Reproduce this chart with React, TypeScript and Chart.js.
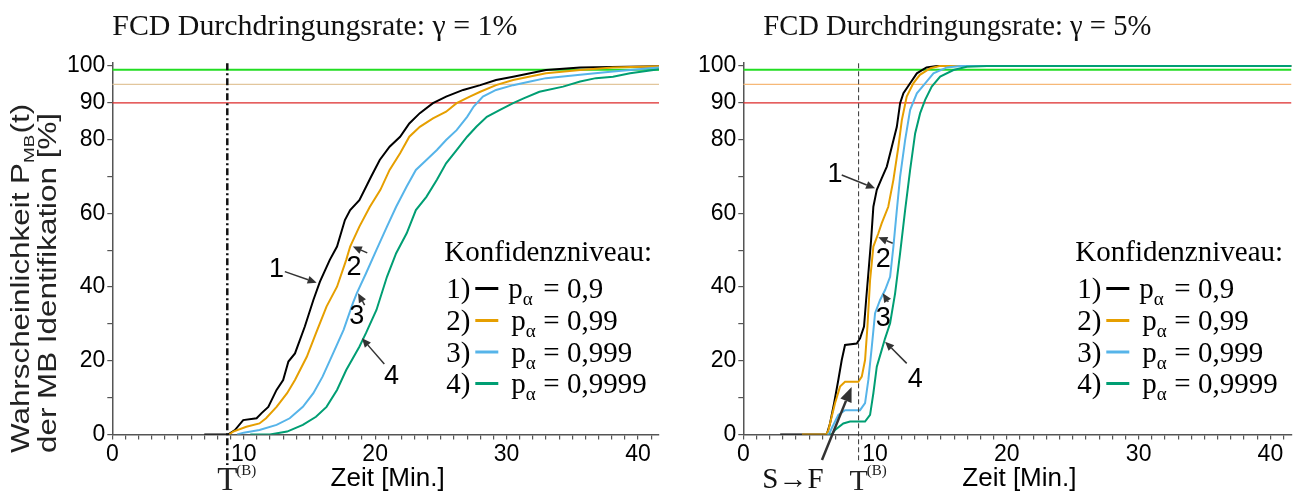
import React, { useEffect, useRef } from 'react';
import { Chart, registerables } from 'chart.js';

Chart.register(...registerables);

type Pt = [number, number];

const SERIF = '"Liberation Serif", "Times New Roman", serif';
const SANS = '"Liberation Sans", Arial, sans-serif';

// ---------- axes ----------
const xMin = 0;
const xMax = 41.6;
const yMin = 0;
const yMax = 101;
const xTickValues = Array.from({ length: 42 }, (_, i) => i);
const xLabelValues = [0, 10, 20, 30, 40];
const yTickValues = [0, 10, 20, 30, 40, 50, 60, 70, 80, 90, 100];
const yLabelValues = [0, 20, 40, 60, 80, 90, 100];

// T^(B) time (min)
const tB = 8.75;
// reference levels (%)
const refLevels = [99, 95, 90];

const seriesColors = ['#000000', '#e69f00', '#56b4e9', '#009e73'];
const legendValues = ['0,9', '0,99', '0,999', '0,9999'];

// ---------- γ = 1 % ----------
const g1_p09: Pt[] = [[7.0, 0], [8.8, 0], [9.33, 1.2], [9.96, 3.9], [10.98, 4.4], [11.36, 5.8], [11.87, 7.5], [12.5, 12.1], [13.0, 14.8], [13.4, 19.8], [13.9, 22.0], [14.65, 29.3], [15.3, 36.5], [15.8, 41.5], [16.55, 47.4], [17.1, 51.0], [17.7, 58.2], [18.1, 60.9], [18.8, 63.6], [19.7, 70.0], [20.35, 74.5], [21.1, 78.1], [21.9, 80.8], [22.6, 84.4], [23.4, 87.2], [24.4, 89.9], [25.4, 91.7], [26.7, 93.5], [28.0, 94.8], [29.2, 96.2], [30.5, 97.1], [33.0, 98.9], [35.6, 99.6], [41.6, 99.9]];
const g1_p099: Pt[] = [[8.9, 0], [9.2, 0.8], [10.2, 2.1], [11.2, 3.0], [11.7, 4.4], [12.5, 7.5], [13.3, 11.2], [13.9, 14.8], [14.8, 21.1], [15.5, 27.5], [16.3, 34.7], [17.1, 40.1], [17.8, 47.4], [18.1, 51.0], [18.8, 56.4], [19.6, 61.8], [20.4, 66.4], [21.1, 71.8], [21.9, 76.3], [22.6, 80.8], [23.4, 83.5], [24.4, 85.8], [25.4, 87.6], [26.2, 89.9], [27.2, 91.7], [28.0, 93.0], [29.2, 94.8], [30.5, 96.2], [33.0, 98.0], [35.6, 98.9], [38.1, 99.6], [41.6, 99.9]];
const g1_p0999: Pt[] = [[9.5, 0], [10.0, 0.5], [11.2, 1.2], [12.5, 2.6], [13.5, 4.4], [14.5, 7.5], [15.3, 11.2], [16.0, 15.7], [16.8, 22.0], [17.6, 28.4], [18.3, 35.6], [18.6, 38.3], [19.3, 43.7], [20.1, 50.1], [20.9, 56.4], [21.6, 61.8], [22.4, 67.3], [23.1, 71.8], [23.9, 74.5], [24.7, 77.2], [25.4, 79.9], [26.2, 82.6], [27.0, 86.2], [27.5, 89.0], [28.2, 91.7], [29.2, 93.5], [30.5, 94.8], [31.8, 95.8], [33.0, 96.7], [35.6, 97.6], [38.1, 98.5], [41.6, 99.6]];
const g1_p09999: Pt[] = [[10.5, 0], [12.0, 0], [13.3, 0.8], [14.5, 2.6], [15.5, 4.8], [16.3, 7.5], [17.1, 12.1], [17.8, 17.5], [18.8, 23.8], [19.3, 27.5], [20.1, 33.8], [20.9, 42.8], [21.6, 49.2], [22.4, 54.6], [23.1, 60.9], [23.9, 64.5], [24.7, 69.1], [25.4, 73.6], [26.2, 77.2], [27.0, 80.8], [27.7, 83.5], [28.5, 86.2], [29.5, 88.1], [30.5, 89.9], [31.3, 91.2], [32.5, 93.0], [34.3, 94.4], [35.6, 95.8], [36.8, 96.7], [38.1, 97.1], [39.4, 98.0], [41.6, 99.1]];

// ---------- γ = 5 % ----------
const g5_p09: Pt[] = [[2.8, 0], [6.33, 0], [6.58, 3.0], [6.89, 8.5], [7.21, 14.8], [7.47, 20.2], [7.72, 24.3], [8.61, 24.7], [8.86, 26.1], [9.16, 29.3], [9.32, 36.5], [9.49, 43.7], [9.7, 52.8], [9.87, 61.8], [10.13, 66.4], [10.5, 69.5], [10.89, 72.7], [11.27, 78.1], [11.65, 83.5], [11.9, 89.9], [12.15, 92.6], [12.66, 95.3], [13.17, 98.0], [13.9, 99.6], [14.7, 100], [41.6, 100]];
const g5_p099: Pt[] = [[4.45, 0], [6.3, 0], [6.46, 1.2], [6.96, 8.5], [7.34, 13.0], [7.72, 14.3], [8.73, 14.3], [8.99, 15.7], [9.24, 20.2], [9.42, 29.3], [9.62, 41.9], [9.87, 51.0], [10.25, 54.6], [10.5, 57.3], [11.0, 61.8], [11.39, 69.1], [11.77, 78.1], [12.03, 85.3], [12.4, 91.7], [12.9, 95.3], [13.4, 97.6], [14.2, 99.4], [14.9, 100], [41.6, 100]];
const g5_p0999: Pt[] = [[6.35, 0], [6.5, 0], [6.71, 1.7], [7.21, 5.3], [7.72, 6.6], [8.86, 6.6], [9.24, 8.5], [9.49, 14.8], [9.75, 23.8], [10.0, 32.9], [10.38, 36.5], [10.76, 39.2], [11.14, 42.8], [11.39, 51.0], [11.65, 60.9], [11.9, 70.0], [12.28, 79.9], [12.66, 88.1], [13.17, 92.6], [13.8, 95.3], [14.43, 98.0], [15.45, 99.6], [16.5, 100], [41.6, 100]];
const g5_p09999: Pt[] = [[6.5, 0], [6.7, 0], [6.96, 1.2], [7.59, 3.0], [8.1, 3.5], [9.24, 3.5], [9.62, 5.3], [9.87, 11.2], [10.13, 18.4], [10.5, 22.9], [10.76, 26.1], [11.14, 30.2], [11.52, 38.3], [11.9, 49.2], [12.28, 60.9], [12.66, 71.8], [13.04, 81.7], [13.42, 87.2], [13.8, 90.8], [14.3, 94.4], [14.94, 97.1], [15.95, 98.9], [16.96, 99.8], [18.5, 100], [41.6, 100]];

// ---------- annotations (data coordinates) ----------
type Ann = { text: string; at: Pt; from: Pt; to: Pt };
const annLeft: Ann[] = [
  { text: '1', at: [12.5, 44.9], from: [13.13, 44.2], to: [15.55, 41.2] },
  { text: '2', at: [18.4, 45.5], from: [19.4, 49.3], to: [18.3, 51.0] },
  { text: '3', at: [18.6, 32.2], from: [19.2, 35.1], to: [18.7, 38.3] },
  { text: '4', at: [21.25, 16.1], from: [20.7, 19.1], to: [19.0, 26.1] },
];
const annRight: Ann[] = [
  { text: '1', at: [6.96, 70.9], from: [7.47, 70.4], to: [10.0, 66.8] },
  { text: '2', at: [10.63, 47.8], from: [11.34, 51.9], to: [10.25, 53.5] },
  { text: '3', at: [10.63, 31.7], from: [11.0, 36.0], to: [10.58, 38.3] },
  { text: '4', at: [13.04, 15.3], from: [12.4, 19.3], to: [10.76, 25.2] },
];
const sfArrow: { from: Pt; to: Pt; labelT: number } = { from: [5.97, -6.9], to: [8.22, 12.9], labelT: 3.77 };

interface PanelSpec {
  left: number;
  width: number;
  axisWidth: number;
  padRight: number;
  title: string;
  titleOffset: number;
  titleWidth: number;
  series: Pt[][];
  refColors: string[];
  anns: Ann[];
  dashDot: boolean;
  yTitle: boolean;
  sf: boolean;
  tSize: number;
}

function arrow(ctx: CanvasRenderingContext2D, x1: number, y1: number, x2: number, y2: number, color: string, lw: number, hl: number, hw: number) {
  const a = Math.atan2(y2 - y1, x2 - x1);
  const bx = x2 - hl * Math.cos(a);
  const by = y2 - hl * Math.sin(a);
  ctx.save();
  ctx.setLineDash([]);
  ctx.strokeStyle = color;
  ctx.fillStyle = color;
  ctx.lineWidth = lw;
  ctx.beginPath();
  ctx.moveTo(x1, y1);
  ctx.lineTo(bx, by);
  ctx.stroke();
  ctx.beginPath();
  ctx.moveTo(x2, y2);
  ctx.lineTo(bx + hw * Math.sin(a), by - hw * Math.cos(a));
  ctx.lineTo(bx - hw * Math.sin(a), by + hw * Math.cos(a));
  ctx.closePath();
  ctx.fill();
  ctx.restore();
}

function makePlugin(spec: PanelSpec) {
  return {
    id: 'decor',
    afterDraw(chart: any) {
      const ctx: CanvasRenderingContext2D = chart.ctx;
      const xs = chart.scales.x;
      const ys = chart.scales.y;
      const X = (v: number) => xs.getPixelForValue(v);
      const Y = (v: number) => ys.getPixelForValue(v);
      const area = chart.chartArea;
      ctx.save();

      // title
      ctx.font = `30px ${SERIF}`;
      ctx.fillStyle = '#111';
      ctx.textAlign = 'left';
      ctx.textBaseline = 'alphabetic';
      const tw = ctx.measureText(spec.title).width;
      const sx = Math.min(1.15, Math.max(0.85, spec.titleWidth / tw));
      ctx.save();
      ctx.translate(area.left + spec.titleOffset, 35);
      ctx.scale(sx, 1);
      ctx.fillText(spec.title, 0, 0);
      ctx.restore();

      // T(B) vertical line
      const xt = X(tB);
      ctx.save();
      ctx.strokeStyle = spec.dashDot ? '#111' : '#333';
      ctx.lineWidth = spec.dashDot ? 2.5 : 1;
      ctx.setLineDash(spec.dashDot ? [7, 3, 2, 3] : [5, 3]);
      ctx.beginPath();
      ctx.moveTo(xt, area.top + 1);
      ctx.lineTo(xt, spec.dashDot ? 465 : 461);
      ctx.stroke();
      ctx.restore();

      // T^(B) label
      ctx.fillStyle = '#222';
      ctx.font = `${spec.tSize}px ${SERIF}`;
      ctx.textAlign = 'center';
      ctx.fillText('T', xt, 490);
      const tW = ctx.measureText('T').width;
      ctx.font = `15px ${SERIF}`;
      ctx.textAlign = 'left';
      ctx.fillText('(B)', xt + tW / 2 - 1, 475);

      // x axis title
      ctx.fillStyle = '#000';
      ctx.font = `26px ${SANS}`;
      ctx.textAlign = 'center';
      ctx.fillText('Zeit [Min.]', (area.left + area.right) / 2 + 2, 486);

      // y axis title
      if (spec.yTitle) {
        ctx.save();
        ctx.fillStyle = '#222';
        const big = `25px ${SANS}`;
        const small = `15px ${SANS}`;
        ctx.font = big;
        const l2 = 'der MB Identifikation [%]';
        const w2 = ctx.measureText(l2).width;
        const s = 340 / w2;
        ctx.save();
        ctx.translate(29, 453);
        ctx.rotate(-Math.PI / 2);
        ctx.scale(s, 1);
        ctx.textAlign = 'left';
        ctx.font = big;
        const a1 = 'Wahrscheinlichkeit P';
        ctx.fillText(a1, 0, 0);
        let off = ctx.measureText(a1).width;
        ctx.font = small;
        ctx.fillText('MB', off, 5);
        off += ctx.measureText('MB').width + 1;
        ctx.font = big;
        ctx.fillText('(t)', off, 0);
        ctx.restore();
        ctx.save();
        ctx.translate(56, 453);
        ctx.rotate(-Math.PI / 2);
        ctx.scale(s, 1);
        ctx.textAlign = 'left';
        ctx.font = big;
        ctx.fillText(l2, 0, 0);
        ctx.restore();
        ctx.restore();
      }

      // numbered arrows
      for (const an of spec.anns) {
        arrow(ctx, X(an.from[0]), Y(an.from[1]), X(an.to[0]), Y(an.to[1]), '#333', 1.5, 9, 4);
        ctx.fillStyle = '#000';
        ctx.font = `27px ${SANS}`;
        ctx.textAlign = 'center';
        ctx.textBaseline = 'middle';
        ctx.fillText(an.text, X(an.at[0]), Y(an.at[1]) + 1);
        ctx.textBaseline = 'alphabetic';
      }

      // S -> F
      if (spec.sf) {
        arrow(ctx, X(sfArrow.from[0]), Y(sfArrow.from[1]), X(sfArrow.to[0]), Y(sfArrow.to[1]), '#333', 2.5, 15, 6);
        ctx.fillStyle = '#111';
        ctx.font = `29px ${SERIF}`;
        ctx.textAlign = 'center';
        ctx.fillText('S\u2192F', X(sfArrow.labelT), 488);
      }

      // legend
      const x0 = area.left + 332;
      ctx.textAlign = 'left';
      ctx.fillStyle = '#000';
      ctx.font = `29px ${SERIF}`;
      ctx.fillText('Konfidenzniveau:', x0, 261);
      const rows = [298, 330, 361.5, 393];
      rows.forEach((by, i) => {
        ctx.font = `29px ${SERIF}`;
        ctx.fillStyle = '#000';
        ctx.fillText(`${i + 1})`, x0 + 2, by);
        ctx.save();
        ctx.strokeStyle = seriesColors[i];
        ctx.lineWidth = 3;
        ctx.beginPath();
        ctx.moveTo(x0 + 31, by - 9.5);
        ctx.lineTo(x0 + 54, by - 9.5);
        ctx.stroke();
        ctx.restore();
        const px = x0 + (i === 0 ? 64 : 67);
        ctx.fillText('p', px, by);
        const pw = ctx.measureText('p').width;
        ctx.font = `19px ${SERIF}`;
        ctx.fillText('\u03b1', px + pw, by + 7);
        ctx.font = `29px ${SERIF}`;
        ctx.fillText(`= ${legendValues[i]}`, x0 + 99, by);
      });

      ctx.restore();
    },
  };
}

function Panel({ spec }: { spec: PanelSpec }) {
  const ref = useRef<HTMLCanvasElement | null>(null);
  useEffect(() => {
    const canvas = ref.current;
    if (!canvas) return;
    const refSets = refLevels.map((lv, i) => ({
      data: [{ x: xMin, y: lv }, { x: xMax, y: lv }],
      borderColor: spec.refColors[i],
      borderWidth: i === 0 ? 2 : 1.3,
      pointRadius: 0,
      order: 10 + i,
    }));
    const curveSets = spec.series.map((s, i) => ({
      data: s.map(([x, y]) => ({ x, y })),
      borderColor: seriesColors[i],
      borderWidth: 2,
      pointRadius: 0,
      tension: 0,
      order: 4 - i,
    }));
    const grid = {
      display: true,
      drawOnChartArea: false,
      drawTicks: true,
      tickLength: 5,
      color: '#555',
      lineWidth: 1.2,
    };
    const border = { display: true, color: '#555', width: 1.5 };
    const chart = new Chart(canvas, {
      type: 'line',
      data: { datasets: [...curveSets, ...refSets] as any },
      plugins: [makePlugin(spec) as any],
      options: {
        animation: false,
        responsive: false,
        events: [],
        layout: { padding: { top: 62.3, right: spec.padRight, left: 0, bottom: 0 } },
        plugins: { legend: { display: false }, tooltip: { enabled: false }, title: { display: false } },
        scales: {
          x: {
            type: 'linear',
            min: xMin,
            max: xMax,
            afterFit: (s: any) => { s.height = 58.5; },
            afterBuildTicks: (s: any) => { s.ticks = xTickValues.map((v) => ({ value: v })); },
            ticks: {
              autoSkip: false,
              maxRotation: 0,
              padding: 1,
              color: '#000',
              font: { family: SANS, size: 23 },
              callback: (v: any) => (xLabelValues.includes(Number(v)) ? String(v) : ''),
            },
            grid: grid as any,
            border: border as any,
          },
          y: {
            type: 'linear',
            min: yMin,
            max: yMax,
            afterFit: (s: any) => { s.width = spec.axisWidth; },
            afterBuildTicks: (s: any) => { s.ticks = yTickValues.map((v) => ({ value: v })); },
            ticks: {
              autoSkip: false,
              padding: 2,
              color: '#000',
              font: { family: SANS, size: 23 },
              callback: (v: any) => (yLabelValues.includes(Number(v)) ? String(v) : ''),
            },
            grid: grid as any,
            border: border as any,
          },
        },
      } as any,
    });
    return () => chart.destroy();
  }, []);
  return (
    <div style={{ position: 'absolute', left: spec.left, top: 0, width: spec.width, height: 493 }}>
      <canvas ref={ref} width={spec.width} height={493} style={{ display: 'block' }} />
    </div>
  );
}

const leftSpec: PanelSpec = {
  left: 0,
  width: 690,
  axisWidth: 112.3,
  padRight: 31,
  title: 'FCD Durchdringungsrate: \u03b3 = 1%',
  titleOffset: 0,
  titleWidth: 405,
  series: [g1_p09, g1_p099, g1_p0999, g1_p09999],
  refColors: ['#22dd22', '#e2c69c', '#dd2a2a'],
  anns: annLeft,
  dashDot: true,
  yTitle: true,
  sf: false,
  tSize: 33,
};

const rightSpec: PanelSpec = {
  left: 690,
  width: 612,
  axisWidth: 53.3,
  padRight: 10.5,
  title: 'FCD Durchdringungsrate: \u03b3 = 5%',
  titleOffset: 20,
  titleWidth: 388,
  series: [g5_p09, g5_p099, g5_p0999, g5_p09999],
  refColors: ['#22dd22', '#f6b877', '#dd2a2a'],
  anns: annRight,
  dashDot: false,
  yTitle: false,
  sf: true,
  tSize: 30,
};

export default function App() {
  return (
    <div style={{ position: 'absolute', left: 0, top: 0, width: 1302, height: 493, background: '#fff', overflow: 'hidden' }}>
      <Panel spec={leftSpec} />
      <Panel spec={rightSpec} />
    </div>
  );
}
